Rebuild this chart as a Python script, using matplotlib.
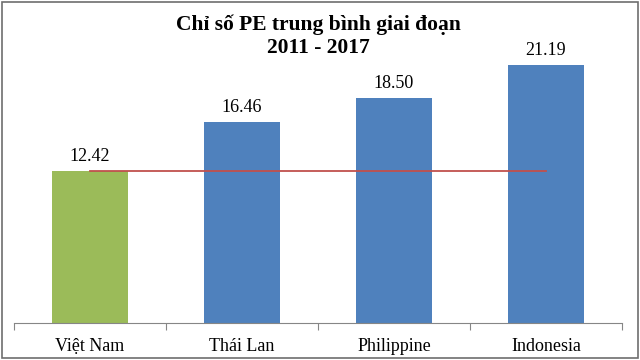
import matplotlib
matplotlib.use("Agg")
import matplotlib.pyplot as plt
from matplotlib.patches import Rectangle

categories = ["Việt Nam", "Thái Lan", "Philippine", "Indonesia"]
pe_values = [12.42, 16.46, 18.50, 21.19]
vn_line = [12.42, 12.42, 12.42, 12.42]
bar_colors = ["#9BBB59", "#4F81BD", "#4F81BD", "#4F81BD"]
title_line1 = "Chỉ số PE trung bình giai đoạn"
title_line2 = "2011 - 2017"

plt.rcParams['font.family'] = ['Liberation Serif', 'DejaVu Serif']

fig = plt.figure(figsize=(6.4, 3.6), dpi=100)
ax = fig.add_axes([14/640, 37.5/360, 608/640, 304/360])

x = list(range(len(categories)))
ax.bar(x, pe_values, width=0.5, color=bar_colors, zorder=2)
ax.plot(x, vn_line, color="#C0504D", linewidth=1.3, zorder=3)

for xi, v in zip(x, pe_values):
    ax.annotate(f"{v:.2f}", (xi, v), xytext=(0, 7.2), textcoords="offset points",
                ha="center", va="baseline", fontsize=13)

ax.set_xlim(-0.5, 3.5)
ax.set_ylim(0, 25)
ax.set_xticks(x)
ax.set_xticklabels(categories, fontsize=13)
ax.tick_params(axis='x', length=0, pad=11.5)
ax.set_xticks([-0.5, 0.5, 1.5, 2.5, 3.5], minor=True)
ax.tick_params(axis='x', which='minor', length=5, color="#868686", width=0.8)
ax.set_yticks([])
for s in ["top", "left", "right"]:
    ax.spines[s].set_visible(False)
ax.spines["bottom"].set_color("#868686")
ax.spines["bottom"].set_linewidth(0.8)

fig.text(318.5/640, 1 - 30/360, title_line1, ha="center", va="baseline",
         fontsize=15.5, fontweight="bold")
fig.text(318/640, 1 - 53/360, title_line2, ha="center", va="baseline",
         fontsize=15.5, fontweight="bold")

fig.patches.append(Rectangle((2/640, 2/360), 636/640, 356/360, transform=fig.transFigure,
                             fill=False, edgecolor="#6E6E6E", linewidth=1.2))

fig.savefig("out.png", dpi=100)
